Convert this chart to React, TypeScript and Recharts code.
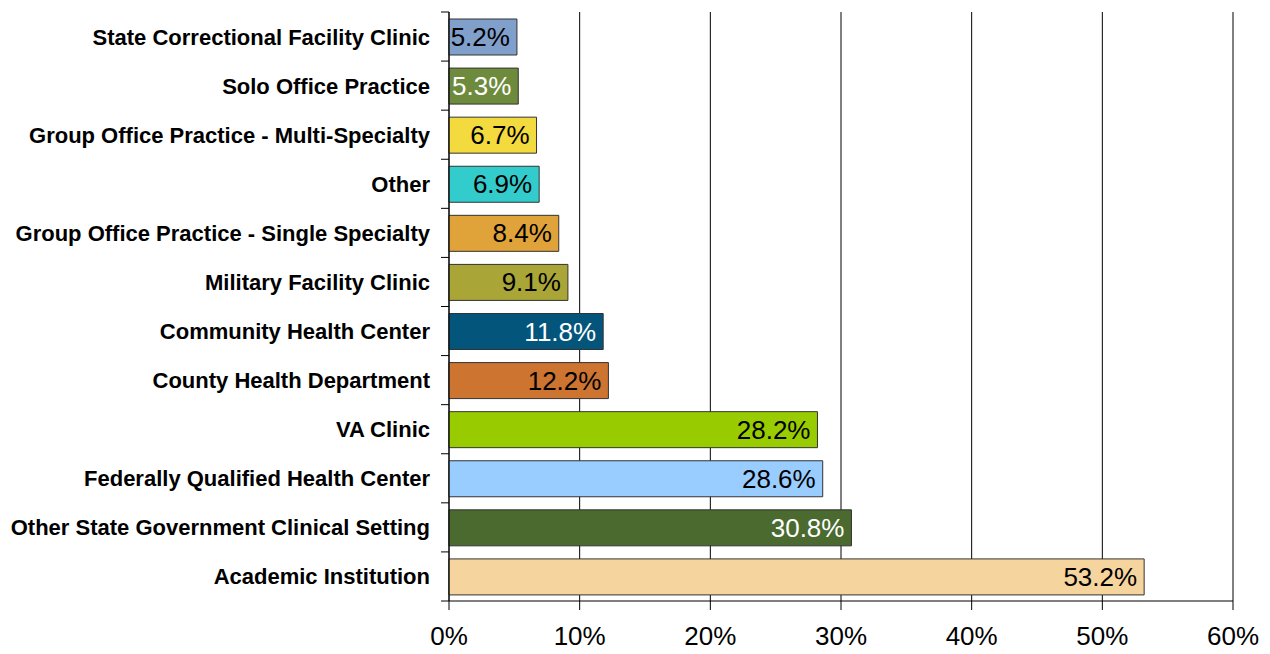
import React from 'react';
import { BarChart, Bar, XAxis, YAxis, CartesianGrid, Cell, LabelList } from 'recharts';

const categories = [
  'State Correctional Facility Clinic',
  'Solo Office Practice',
  'Group Office Practice - Multi-Specialty',
  'Other',
  'Group Office Practice - Single Specialty',
  'Military Facility Clinic',
  'Community Health Center',
  'County Health Department',
  'VA Clinic',
  'Federally Qualified Health Center',
  'Other State Government Clinical Setting',
  'Academic Institution',
];

const values = [5.2, 5.3, 6.7, 6.9, 8.4, 9.1, 11.8, 12.2, 28.2, 28.6, 30.8, 53.2];

const barColors = [
  '#809FCB', '#6E8B3D', '#F2DA3F', '#33CCCC', '#E0A33A', '#A9A537',
  '#04557B', '#CC7430', '#99CC00', '#99CCFF', '#4A6A30', '#F5D59D',
];

const labelColors = [
  '#000', '#fff', '#000', '#000', '#000', '#000',
  '#fff', '#000', '#000', '#000', '#fff', '#000',
];

const xTicks = [0, 10, 20, 30, 40, 50, 60];

const data = categories.map((name, i) => ({
  name,
  value: values[i],
  color: barColors[i],
  labelColor: labelColors[i],
}));

const FONT = "Arial, 'Liberation Sans', sans-serif";
const WIDTH = 1270;
const HEIGHT = 654;
const TOP = 12;
const PLOT_BOTTOM = 601;
const HALF_BAND = (PLOT_BOTTOM - TOP) / categories.length / 2;

const CategoryTick = (props: any) => {
  const { x, y, payload, index } = props;
  return (
    <g>
      <text x={x} y={y} dy={8} textAnchor="end" fontFamily={FONT} fontSize={22} fontWeight="bold" fill="#000">
        {payload.value}
      </text>
      {index === 0 && <line x1={x + 11} x2={x + 19} y1={y - HALF_BAND} y2={y - HALF_BAND} stroke="#000" />}
      <line x1={x + 11} x2={x + 19} y1={y + HALF_BAND} y2={y + HALF_BAND} stroke="#000" />
    </g>
  );
};

const ValueLabel = (props: any) => {
  const { x, y, width, height, index } = props;
  return (
    <text
      x={x + width - 7}
      y={y + height / 2}
      dy={9}
      textAnchor="end"
      fontFamily={FONT}
      fontSize={26}
      fill={data[index].labelColor}
    >
      {values[index].toFixed(1)}%
    </text>
  );
};

export default function App() {
  return (
    <div style={{ position: 'absolute', left: 0, top: 0, background: '#fff' }}>
      <BarChart
        width={WIDTH}
        height={HEIGHT}
        data={data}
        layout="vertical"
        margin={{ top: TOP, right: 37, left: 0, bottom: 0 }}
      >
        <CartesianGrid horizontal={false} stroke="#000" strokeWidth={1} />
        <XAxis
          type="number"
          domain={[0, 60]}
          ticks={xTicks}
          tickFormatter={(v) => `${v}%`}
          height={53}
          tickSize={9}
          tickMargin={17}
          axisLine={{ stroke: '#000' }}
          tickLine={{ stroke: '#000' }}
          tick={{ fill: '#000', fontSize: 26, fontFamily: FONT }}
          interval={0}
        />
        <YAxis
          type="category"
          dataKey="name"
          width={449}
          tickSize={8}
          tickMargin={11}
          tickLine={false}
          axisLine={{ stroke: '#000' }}
          tick={<CategoryTick />}
          interval={0}
        />
        <Bar dataKey="value" barSize={36} stroke="#333" strokeWidth={1} isAnimationActive={false}>
          {data.map((d, i) => (
            <Cell key={i} fill={d.color} />
          ))}
          <LabelList dataKey="value" content={<ValueLabel />} />
        </Bar>
      </BarChart>
    </div>
  );
}
